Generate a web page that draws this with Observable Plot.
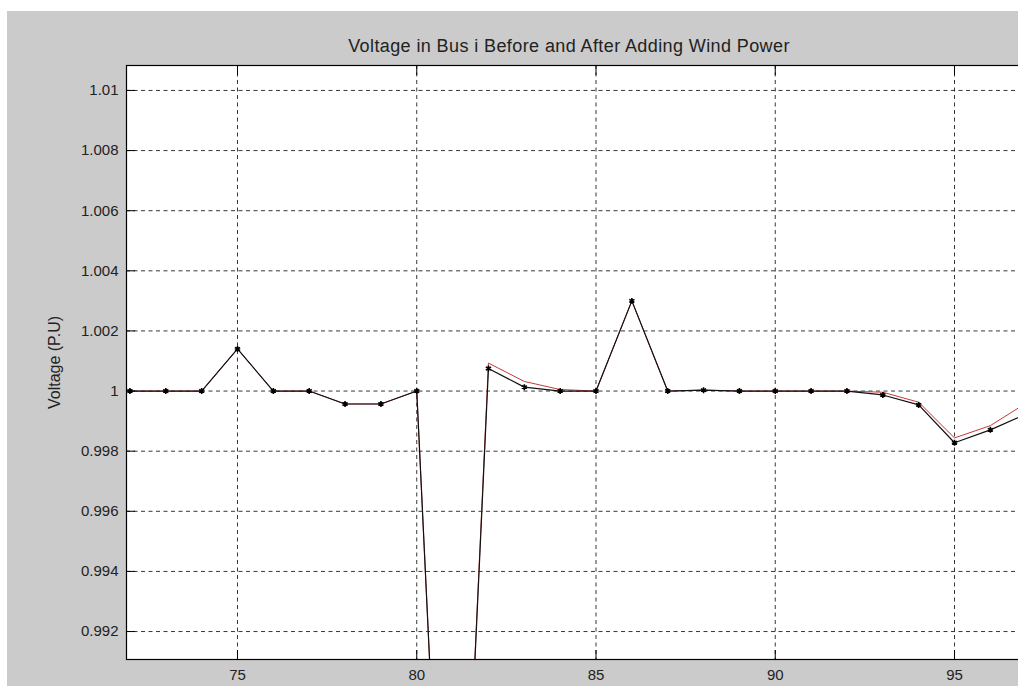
<!DOCTYPE html>
<html><head><meta charset="utf-8">
<script src="https://cdn.jsdelivr.net/npm/d3@7"></script>
<script src="https://cdn.jsdelivr.net/npm/@observablehq/plot@0.6"></script>
<style>
html,body{margin:0;padding:0;background:#fff;overflow:hidden;width:1018px;height:686px;}
#panel{position:absolute;left:7px;top:11px;width:1011px;height:675px;background:#cbcbcb;overflow:hidden;font-family:"Liberation Sans",Arial,sans-serif;}
#title{position:absolute;left:0;top:24px;width:1124px;text-align:center;font-size:18px;line-height:22px;letter-spacing:0.4px;color:#222;}
#chart{position:absolute;left:0;top:44px;width:1030px;}
#chart svg{max-width:none !important;}
</style>
</head><body>
<div id="panel">
  <div id="title">Voltage in Bus i Before and After Adding Wind Power</div>
  <div id="chart"></div>
</div>
<script>
const bus = [72,73,74,75,76,77,78,79,80,81,82,83,84,85,86,87,88,89,90,91,92,93,94,95,96,97];
const voltageBefore = [1,1,1,1.0014,1,1,0.99957,0.99957,1,0.975,1.00075,1.00013,1,1,1.003,1,1.00003,1,1,1,1,0.99987,0.99954,0.99828,0.99871,0.99924];
const voltageAfter  = [1,1,1,1.0014,1,1,0.99957,0.99957,1,0.975,1.00093,1.00032,1.00005,1,1.003,1,1.00003,1,1,1,1,0.99996,0.99963,0.99844,0.99885,0.9996];
const xTicks = [75,80,85,90,95];
const yTicks = [0.992,0.994,0.996,0.998,1,1.002,1.004,1.006,1.008,1.01];
const xDomain = [71.904, 96.98];
const yDomain = [0.99107, 1.01083];

const before = bus.map((b,i)=>({bus:b, v:voltageBefore[i]}));
const after = bus.map((b,i)=>({bus:b, v:voltageAfter[i]}));
const fmt = d => String(+d.toFixed(3));
const blank = () => "";

const chart = Plot.plot({
  width: 1030, height: 631,
  marginLeft: 119, marginRight: 12, marginTop: 10, marginBottom: 27,
  style: {background: "transparent", fontFamily: '"Liberation Sans", Arial, sans-serif', fontSize: "15px", color: "#222", maxWidth: "none"},
  x: {domain: xDomain},
  y: {domain: yDomain},
  marks: [
    Plot.frame({fill: "white", stroke: null}),
    Plot.gridX(xTicks, {stroke: "#222", strokeOpacity: 0.9, strokeDasharray: "4,3.5"}),
    Plot.gridY(yTicks, {stroke: "#222", strokeOpacity: 0.9, strokeDasharray: "4,3.5"}),
    Plot.line(after, {x: "bus", y: "v", stroke: "#c43a3a", strokeWidth: 1, clip: true}),
    Plot.line(before, {x: "bus", y: "v", stroke: "#111", strokeWidth: 1.2, clip: true}),
    Plot.dot(before, {x: "bus", y: "v", symbol: "asterisk", r: 2.8, stroke: "#000", strokeWidth: 1.6, clip: true}),
    Plot.axisX(xTicks, {anchor: "bottom", tickSize: 0, tickPadding: 10, fontSize: 15, tickFormat: d => String(d), label: null}),
    Plot.axisX(xTicks, {anchor: "bottom", tickSize: -9, tickFormat: blank, label: null, stroke: "#000"}),
    Plot.axisX(xTicks, {anchor: "top", tickSize: -9, tickFormat: blank, label: null, stroke: "#000"}),
    Plot.axisY(yTicks, {anchor: "left", tickSize: 0, tickPadding: 8, fontSize: 15, tickFormat: fmt, label: null}),
    Plot.axisY(yTicks, {anchor: "left", tickSize: -9, tickFormat: blank, label: null, stroke: "#000"}),
    Plot.axisY({anchor: "left", ticks: [], label: "Voltage (P.U)", labelAnchor: "center", labelArrow: "none", labelOffset: 78, fontSize: 16, style: {letterSpacing: "0.8px"}}),
    Plot.frame({stroke: "#000", strokeWidth: 1.2})
  ]
});
document.getElementById("chart").appendChild(chart);
</script>
</body></html>
